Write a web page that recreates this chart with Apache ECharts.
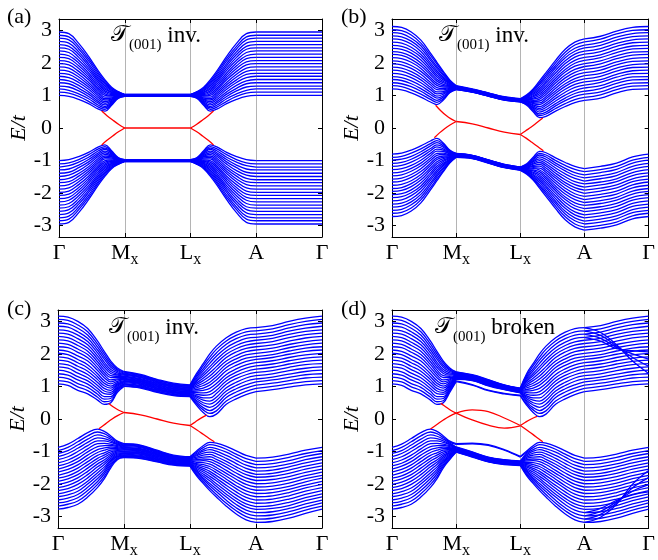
<!DOCTYPE html>
<html>
<head>
<meta charset="utf-8">
<script src="https://cdn.jsdelivr.net/npm/echarts@6/dist/echarts.min.js"></script>
<style>
html,body{margin:0;padding:0;background:#fff}
#main{width:658px;height:560px}
</style>
</head>
<body>
<div id="main"></div>
<script>
// k positions along the path (0=Γ, 1=Mx, 2=Lx, 3=A, 4=Γ)
var kA = [0,0.15,0.3,0.45,0.6,0.7,0.8,0.9,1, 2,2.1,2.2,2.3,2.4,2.55,2.7,2.85,3, 4];
var kB = [0,0.15,0.3,0.45,0.6,0.7,0.8,0.9,1, 1.25,1.5,1.75,2, 2.1,2.2,2.3,2.4,2.55,2.7,2.85,3, 3.25,3.5,3.75,4];
var kX = [3,3.25,3.5,3.75,4];
var kNames = ['Γ','M','L','A','Γ'];
var kSubs  = ['','x','x','',''];
var yTicks = [-3,-2,-1,0,1,2,3];

// ---- panel (a): energies of the slab bands at each k (row = one k point)
var Ra0   = [1.00,1.10,1.20,1.29,1.39,1.49,1.59,1.68,1.78,1.88,1.98,2.07,2.17,2.27,2.37,2.46,2.56,2.66,2.76,2.85,2.95];
var Ra015 = [0.97,1.07,1.16,1.26,1.36,1.45,1.55,1.65,1.74,1.84,1.94,2.03,2.13,2.22,2.32,2.42,2.51,2.61,2.71,2.80,2.90];
var Ra03  = [0.88,0.97,1.05,1.14,1.22,1.31,1.40,1.48,1.57,1.65,1.74,1.83,1.91,2.00,2.08,2.17,2.26,2.34,2.43,2.51,2.60];
var Ra045 = [0.75,0.82,0.90,0.97,1.04,1.11,1.19,1.26,1.33,1.40,1.48,1.55,1.62,1.69,1.77,1.84,1.91,1.98,2.06,2.13,2.20];
var Ra06  = [0.58,0.64,0.70,0.76,0.81,0.87,0.93,0.99,1.05,1.11,1.17,1.22,1.28,1.34,1.40,1.46,1.52,1.57,1.63,1.69,1.75];
var Ra07  = [0.52,0.57,0.62,0.66,0.71,0.76,0.81,0.86,0.90,0.95,1.00,1.05,1.10,1.14,1.19,1.24,1.29,1.34,1.38,1.43,1.48];
var Ra08  = [0.70,0.73,0.76,0.78,0.81,0.84,0.87,0.89,0.92,0.95,0.98,1.00,1.03,1.06,1.09,1.11,1.14,1.17,1.20,1.22,1.25];
var Ra09  = [0.91,0.92,0.93,0.94,0.95,0.96,0.97,0.98,0.99,1.00,1.02,1.03,1.04,1.05,1.06,1.07,1.08,1.09,1.10,1.11,1.12];
var Ra1   = [0.97,0.97,0.98,0.98,0.98,0.99,0.99,0.99,0.99,1.00,1.00,1.00,1.01,1.01,1.01,1.02,1.02,1.02,1.02,1.03,1.03];

var Va0   = [-1.00,-1.10,-1.20,-1.29,-1.39,-1.49,-1.59,-1.68,-1.78,-1.88,-1.98,-2.07,-2.17,-2.27,-2.37,-2.46,-2.56,-2.66,-2.76,-2.85,-2.95];
var Va015 = [-0.97,-1.07,-1.16,-1.26,-1.36,-1.45,-1.55,-1.65,-1.74,-1.84,-1.94,-2.03,-2.13,-2.22,-2.32,-2.42,-2.51,-2.61,-2.71,-2.80,-2.90];
var Va03  = [-0.88,-0.97,-1.05,-1.14,-1.22,-1.31,-1.40,-1.48,-1.57,-1.65,-1.74,-1.83,-1.91,-2.00,-2.08,-2.17,-2.26,-2.34,-2.43,-2.51,-2.60];
var Va045 = [-0.75,-0.82,-0.90,-0.97,-1.04,-1.11,-1.19,-1.26,-1.33,-1.40,-1.48,-1.55,-1.62,-1.69,-1.77,-1.84,-1.91,-1.98,-2.06,-2.13,-2.20];
var Va06  = [-0.58,-0.64,-0.70,-0.76,-0.81,-0.87,-0.93,-0.99,-1.05,-1.11,-1.17,-1.22,-1.28,-1.34,-1.40,-1.46,-1.52,-1.57,-1.63,-1.69,-1.75];
var Va07  = [-0.52,-0.57,-0.62,-0.66,-0.71,-0.76,-0.81,-0.86,-0.90,-0.95,-1.00,-1.05,-1.10,-1.14,-1.19,-1.24,-1.29,-1.34,-1.38,-1.43,-1.48];
var Va08  = [-0.70,-0.73,-0.76,-0.78,-0.81,-0.84,-0.87,-0.89,-0.92,-0.95,-0.98,-1.00,-1.03,-1.06,-1.09,-1.11,-1.14,-1.17,-1.20,-1.22,-1.25];
var Va09  = [-0.91,-0.92,-0.93,-0.94,-0.95,-0.96,-0.97,-0.98,-0.99,-1.00,-1.02,-1.03,-1.04,-1.05,-1.06,-1.07,-1.08,-1.09,-1.10,-1.11,-1.12];
var Va1   = [-0.97,-0.97,-0.98,-0.98,-0.98,-0.99,-0.99,-0.99,-0.99,-1.00,-1.00,-1.00,-1.01,-1.01,-1.01,-1.02,-1.02,-1.02,-1.02,-1.03,-1.03];

var condA = [Ra0,Ra015,Ra03,Ra045,Ra06,Ra07,Ra08,Ra09,Ra1, Ra1,Ra09,Ra08,Ra07,Ra06,Ra045,Ra03,Ra015,Ra0, Ra0];
var valA  = [Va0,Va015,Va03,Va045,Va06,Va07,Va08,Va09,Va1, Va1,Va09,Va08,Va07,Va06,Va045,Va03,Va015,Va0, Va0];
var redA = [
  [[0.65,0.52],[0.73,0.38],[0.82,0.24],[0.91,0.11],[1,0]],
  [[0.65,-0.52],[0.73,-0.38],[0.82,-0.24],[0.91,-0.11],[1,0]],
  [[1,0],[2,0]],
  [[2,0],[2.09,0.11],[2.18,0.24],[2.27,0.38],[2.35,0.52]],
  [[2,0],[2.09,-0.11],[2.18,-0.24],[2.27,-0.38],[2.35,-0.52]]
];

// ---- panel (b)
var Rb0   = [1.20,1.30,1.39,1.49,1.58,1.68,1.78,1.87,1.97,2.06,2.16,2.26,2.35,2.45,2.54,2.64,2.74,2.83,2.93,3.02,3.12];
var Rb015 = [1.17,1.27,1.36,1.46,1.55,1.65,1.75,1.84,1.94,2.03,2.13,2.23,2.32,2.42,2.51,2.61,2.71,2.80,2.90,2.99,3.09];
var Rb03  = [1.08,1.17,1.27,1.36,1.45,1.55,1.64,1.73,1.83,1.92,2.02,2.11,2.20,2.30,2.39,2.48,2.58,2.67,2.76,2.86,2.95];
var Rb045 = [0.95,1.04,1.13,1.21,1.30,1.39,1.48,1.56,1.65,1.74,1.83,1.91,2.00,2.09,2.18,2.26,2.35,2.44,2.53,2.61,2.70];
var Rb06  = [0.80,0.88,0.95,1.03,1.10,1.18,1.25,1.33,1.40,1.48,1.55,1.63,1.70,1.78,1.85,1.93,2.00,2.08,2.15,2.23,2.30];
var Rb07  = [0.72,0.79,0.85,0.92,0.98,1.05,1.11,1.18,1.24,1.31,1.37,1.44,1.50,1.57,1.63,1.70,1.76,1.83,1.89,1.96,2.02];
var Rb08  = [0.86,0.90,0.95,0.99,1.04,1.08,1.12,1.17,1.21,1.26,1.30,1.34,1.39,1.43,1.48,1.52,1.56,1.61,1.65,1.70,1.74];
var Rb09  = [1.08,1.10,1.12,1.14,1.16,1.18,1.20,1.22,1.24,1.26,1.28,1.30,1.32,1.34,1.36,1.38,1.40,1.42,1.44,1.46,1.48];
var Rb1   = [1.18,1.19,1.19,1.20,1.20,1.21,1.22,1.22,1.23,1.23,1.24,1.25,1.25,1.26,1.26,1.27,1.28,1.28,1.29,1.29,1.30];
var Rb125 = [1.10,1.10,1.11,1.11,1.12,1.12,1.13,1.13,1.14,1.14,1.15,1.15,1.16,1.16,1.17,1.17,1.18,1.18,1.19,1.19,1.20];
var Rb15  = [0.98,0.98,0.99,0.99,1.00,1.00,1.01,1.01,1.02,1.02,1.03,1.03,1.04,1.04,1.05,1.05,1.06,1.06,1.07,1.07,1.08];
var Rb175 = [0.86,0.86,0.87,0.87,0.88,0.88,0.89,0.89,0.90,0.90,0.91,0.91,0.92,0.92,0.93,0.93,0.94,0.94,0.95,0.95,0.96];
var Rb2   = [0.80,0.80,0.81,0.81,0.82,0.82,0.83,0.83,0.84,0.84,0.85,0.85,0.86,0.86,0.87,0.87,0.88,0.88,0.89,0.89,0.90];
var Rb21  = [0.70,0.72,0.73,0.75,0.76,0.78,0.80,0.81,0.83,0.84,0.86,0.88,0.89,0.91,0.92,0.94,0.96,0.97,0.99,1.00,1.02];
var Rb22  = [0.50,0.54,0.57,0.61,0.64,0.68,0.71,0.75,0.78,0.82,0.85,0.89,0.92,0.96,0.99,1.03,1.06,1.10,1.13,1.17,1.20];
var Rb23  = [0.32,0.38,0.43,0.49,0.55,0.60,0.66,0.72,0.77,0.83,0.89,0.94,1.00,1.05,1.11,1.17,1.22,1.28,1.34,1.39,1.45];
var Rb24  = [0.36,0.43,0.49,0.56,0.63,0.70,0.76,0.83,0.90,0.96,1.03,1.10,1.16,1.23,1.30,1.37,1.43,1.50,1.57,1.63,1.70];
var Rb255 = [0.52,0.60,0.68,0.75,0.83,0.91,0.99,1.07,1.14,1.22,1.30,1.38,1.46,1.53,1.61,1.69,1.77,1.85,1.92,2.00,2.08];
var Rb27  = [0.66,0.75,0.84,0.92,1.01,1.10,1.19,1.28,1.36,1.45,1.54,1.63,1.72,1.80,1.89,1.98,2.07,2.16,2.24,2.33,2.42];
var Rb285 = [0.78,0.87,0.97,1.06,1.15,1.25,1.34,1.43,1.52,1.62,1.71,1.80,1.90,1.99,2.08,2.18,2.27,2.36,2.45,2.55,2.64];
var Rb3   = [0.85,0.94,1.04,1.13,1.23,1.32,1.42,1.51,1.61,1.70,1.80,1.89,1.98,2.08,2.17,2.27,2.36,2.46,2.55,2.65,2.74];
var Rb325 = [0.92,1.02,1.11,1.21,1.30,1.40,1.49,1.59,1.68,1.78,1.87,1.97,2.06,2.16,2.25,2.35,2.44,2.54,2.63,2.73,2.82];
var Rb35  = [1.08,1.18,1.27,1.37,1.46,1.56,1.65,1.75,1.84,1.94,2.03,2.13,2.22,2.32,2.41,2.51,2.60,2.70,2.79,2.89,2.98];
var Rb375 = [1.19,1.29,1.38,1.48,1.57,1.67,1.76,1.86,1.95,2.05,2.14,2.24,2.33,2.43,2.52,2.62,2.71,2.81,2.90,3.00,3.09];

var Vb0   = [-0.80,-0.90,-0.99,-1.09,-1.18,-1.28,-1.38,-1.47,-1.57,-1.66,-1.76,-1.86,-1.95,-2.05,-2.14,-2.24,-2.34,-2.43,-2.53,-2.62,-2.72];
var Vb015 = [-0.77,-0.87,-0.96,-1.06,-1.15,-1.25,-1.35,-1.44,-1.54,-1.63,-1.73,-1.83,-1.92,-2.02,-2.11,-2.21,-2.31,-2.40,-2.50,-2.59,-2.69];
var Vb03  = [-0.68,-0.77,-0.87,-0.96,-1.05,-1.15,-1.24,-1.33,-1.43,-1.52,-1.62,-1.71,-1.80,-1.90,-1.99,-2.08,-2.18,-2.27,-2.36,-2.46,-2.55];
var Vb045 = [-0.55,-0.64,-0.73,-0.81,-0.90,-0.99,-1.08,-1.16,-1.25,-1.34,-1.43,-1.51,-1.60,-1.69,-1.78,-1.86,-1.95,-2.04,-2.13,-2.21,-2.30];
var Vb06  = [-0.40,-0.48,-0.55,-0.63,-0.70,-0.78,-0.85,-0.93,-1.00,-1.08,-1.15,-1.23,-1.30,-1.38,-1.45,-1.53,-1.60,-1.68,-1.75,-1.83,-1.90];
var Vb07  = [-0.32,-0.39,-0.45,-0.52,-0.58,-0.65,-0.71,-0.78,-0.84,-0.91,-0.97,-1.04,-1.10,-1.17,-1.23,-1.30,-1.36,-1.43,-1.49,-1.56,-1.62];
var Vb08  = [-0.46,-0.50,-0.55,-0.59,-0.64,-0.68,-0.72,-0.77,-0.81,-0.86,-0.90,-0.94,-0.99,-1.03,-1.08,-1.12,-1.16,-1.21,-1.25,-1.30,-1.34];
var Vb09  = [-0.68,-0.70,-0.72,-0.74,-0.76,-0.78,-0.80,-0.82,-0.84,-0.86,-0.88,-0.90,-0.92,-0.94,-0.96,-0.98,-1.00,-1.02,-1.04,-1.06,-1.08];
var Vb1   = [-0.78,-0.79,-0.79,-0.80,-0.80,-0.81,-0.82,-0.82,-0.83,-0.83,-0.84,-0.85,-0.85,-0.86,-0.86,-0.87,-0.88,-0.88,-0.89,-0.89,-0.90];
var Vb125 = [-0.84,-0.84,-0.85,-0.85,-0.86,-0.86,-0.87,-0.87,-0.88,-0.88,-0.89,-0.89,-0.90,-0.90,-0.91,-0.91,-0.92,-0.92,-0.93,-0.93,-0.94];
var Vb15  = [-0.98,-0.98,-0.99,-0.99,-1.00,-1.00,-1.01,-1.01,-1.02,-1.02,-1.03,-1.03,-1.04,-1.04,-1.05,-1.05,-1.06,-1.06,-1.07,-1.07,-1.08];
var Vb175 = [-1.12,-1.12,-1.13,-1.13,-1.14,-1.14,-1.15,-1.15,-1.16,-1.16,-1.17,-1.17,-1.18,-1.18,-1.19,-1.19,-1.20,-1.20,-1.21,-1.21,-1.22];
var Vb2   = [-1.20,-1.20,-1.21,-1.21,-1.22,-1.22,-1.23,-1.23,-1.24,-1.24,-1.25,-1.25,-1.26,-1.26,-1.27,-1.27,-1.28,-1.28,-1.29,-1.29,-1.30];
var Vb21  = [-1.10,-1.12,-1.13,-1.15,-1.16,-1.18,-1.20,-1.21,-1.23,-1.24,-1.26,-1.28,-1.29,-1.31,-1.32,-1.34,-1.36,-1.37,-1.39,-1.40,-1.42];
var Vb22  = [-0.90,-0.94,-0.97,-1.01,-1.04,-1.08,-1.11,-1.15,-1.18,-1.22,-1.25,-1.29,-1.32,-1.36,-1.39,-1.43,-1.46,-1.50,-1.53,-1.57,-1.60];
var Vb23  = [-0.72,-0.78,-0.83,-0.89,-0.95,-1.00,-1.06,-1.12,-1.17,-1.23,-1.29,-1.34,-1.40,-1.45,-1.51,-1.57,-1.62,-1.68,-1.74,-1.79,-1.85];
var Vb24  = [-0.76,-0.83,-0.89,-0.96,-1.03,-1.10,-1.16,-1.23,-1.30,-1.36,-1.43,-1.50,-1.56,-1.63,-1.70,-1.77,-1.83,-1.90,-1.97,-2.03,-2.10];
var Vb255 = [-0.92,-1.00,-1.08,-1.15,-1.23,-1.31,-1.39,-1.47,-1.54,-1.62,-1.70,-1.78,-1.86,-1.93,-2.01,-2.09,-2.17,-2.25,-2.32,-2.40,-2.48];
var Vb27  = [-1.06,-1.15,-1.24,-1.32,-1.41,-1.50,-1.59,-1.68,-1.76,-1.85,-1.94,-2.03,-2.12,-2.20,-2.29,-2.38,-2.47,-2.56,-2.64,-2.73,-2.82];
var Vb285 = [-1.18,-1.27,-1.37,-1.46,-1.55,-1.65,-1.74,-1.83,-1.92,-2.02,-2.11,-2.20,-2.30,-2.39,-2.48,-2.58,-2.67,-2.76,-2.85,-2.95,-3.04];
var Vb3   = [-1.25,-1.34,-1.44,-1.53,-1.63,-1.72,-1.82,-1.91,-2.01,-2.10,-2.20,-2.29,-2.38,-2.48,-2.57,-2.67,-2.76,-2.86,-2.95,-3.05,-3.14];
var Vb325 = [-1.18,-1.28,-1.37,-1.47,-1.56,-1.66,-1.75,-1.85,-1.94,-2.04,-2.13,-2.23,-2.32,-2.42,-2.51,-2.61,-2.70,-2.80,-2.89,-2.99,-3.08];
var Vb35  = [-1.08,-1.18,-1.27,-1.37,-1.46,-1.56,-1.65,-1.75,-1.84,-1.94,-2.03,-2.13,-2.22,-2.32,-2.41,-2.51,-2.60,-2.70,-2.79,-2.89,-2.98];
var Vb375 = [-0.89,-0.99,-1.08,-1.18,-1.27,-1.37,-1.46,-1.56,-1.65,-1.75,-1.84,-1.94,-2.03,-2.13,-2.22,-2.32,-2.41,-2.51,-2.60,-2.70,-2.79];

var condB = [Rb0,Rb015,Rb03,Rb045,Rb06,Rb07,Rb08,Rb09,Rb1,Rb125,Rb15,Rb175,Rb2,Rb21,Rb22,Rb23,Rb24,Rb255,Rb27,Rb285,Rb3,Rb325,Rb35,Rb375,Rb0];
var valB  = [Vb0,Vb015,Vb03,Vb045,Vb06,Vb07,Vb08,Vb09,Vb1,Vb125,Vb15,Vb175,Vb2,Vb21,Vb22,Vb23,Vb24,Vb255,Vb27,Vb285,Vb3,Vb325,Vb35,Vb375,Vb0];
var redB = [
  [[0.68,0.70],[0.76,0.53],[0.84,0.39],[0.92,0.28],[1,0.2]],
  [[0.66,-0.30],[0.74,-0.15],[0.82,-0.02],[0.91,0.10],[1,0.2]],
  [[1,0.2],[1.25,0.13],[1.5,0],[1.75,-0.13],[2,-0.2]],
  [[2,-0.2],[2.08,-0.09],[2.17,0.03],[2.26,0.17],[2.35,0.31]],
  [[2,-0.2],[2.09,-0.31],[2.18,-0.44],[2.27,-0.57],[2.36,-0.70]]
];

// ---- panels (c) and (d)
var Rc0   = [1.08,1.18,1.29,1.39,1.50,1.60,1.70,1.81,1.91,2.02,2.12,2.22,2.33,2.43,2.54,2.64,2.74,2.85,2.95,3.06,3.16];
var Rc015 = [1.03,1.14,1.24,1.35,1.45,1.56,1.66,1.77,1.87,1.98,2.08,2.19,2.29,2.40,2.50,2.61,2.71,2.82,2.92,3.03,3.13];
var Rc03  = [0.88,0.99,1.09,1.20,1.30,1.41,1.52,1.62,1.73,1.83,1.94,2.05,2.15,2.26,2.36,2.47,2.58,2.68,2.79,2.89,3.00];
var Rc045 = [0.77,0.87,0.97,1.07,1.17,1.27,1.37,1.47,1.57,1.67,1.78,1.88,1.98,2.08,2.18,2.28,2.38,2.48,2.58,2.68,2.78];
var Rc06  = [0.58,0.67,0.76,0.85,0.94,1.03,1.12,1.21,1.30,1.39,1.49,1.58,1.67,1.76,1.85,1.94,2.03,2.12,2.21,2.30,2.39];
var Rc07  = [0.45,0.53,0.61,0.69,0.78,0.86,0.94,1.02,1.10,1.18,1.27,1.35,1.43,1.51,1.59,1.67,1.75,1.84,1.92,2.00,2.08];
var Rc08  = [0.50,0.56,0.63,0.69,0.76,0.82,0.88,0.95,1.01,1.08,1.14,1.20,1.27,1.33,1.40,1.46,1.52,1.59,1.65,1.72,1.78];
var Rc09  = [0.82,0.86,0.90,0.93,0.97,1.01,1.05,1.08,1.12,1.16,1.20,1.23,1.27,1.31,1.35,1.38,1.42,1.46,1.50,1.53,1.57];
var Rc1   = [1.00,1.02,1.05,1.07,1.09,1.12,1.14,1.16,1.18,1.21,1.23,1.25,1.28,1.30,1.32,1.35,1.37,1.39,1.41,1.44,1.46];
var Rc125 = [0.95,0.97,0.99,1.01,1.03,1.06,1.08,1.10,1.12,1.14,1.16,1.18,1.20,1.22,1.24,1.27,1.29,1.31,1.33,1.35,1.37];
var Rc15  = [0.82,0.84,0.86,0.88,0.90,0.92,0.94,0.96,0.98,1.00,1.02,1.04,1.06,1.08,1.10,1.12,1.14,1.16,1.18,1.20,1.22];
var Rc175 = [0.72,0.74,0.76,0.78,0.80,0.82,0.83,0.85,0.87,0.89,0.91,0.93,0.95,0.97,0.99,1.01,1.02,1.04,1.06,1.08,1.10];
var Rc2   = [0.69,0.71,0.73,0.74,0.76,0.78,0.80,0.82,0.83,0.85,0.87,0.89,0.91,0.92,0.94,0.96,0.98,1.00,1.01,1.03,1.05];
var Rc21  = [0.42,0.47,0.52,0.57,0.62,0.67,0.71,0.76,0.81,0.86,0.91,0.96,1.01,1.06,1.11,1.16,1.20,1.25,1.30,1.35,1.40];
var Rc22  = [0.20,0.28,0.35,0.43,0.50,0.58,0.65,0.73,0.80,0.88,0.95,1.03,1.10,1.18,1.25,1.33,1.40,1.48,1.55,1.63,1.70];
var Rc23  = [0.07,0.17,0.26,0.36,0.46,0.55,0.65,0.75,0.84,0.94,1.04,1.13,1.23,1.32,1.42,1.52,1.61,1.71,1.81,1.90,2.00];
var Rc24  = [0.15,0.25,0.36,0.46,0.57,0.67,0.78,0.88,0.99,1.09,1.20,1.30,1.40,1.51,1.61,1.72,1.82,1.93,2.03,2.14,2.24];
var Rc255 = [0.45,0.55,0.66,0.76,0.86,0.96,1.07,1.17,1.27,1.37,1.48,1.58,1.68,1.78,1.89,1.99,2.09,2.19,2.30,2.40,2.50];
var Rc27  = [0.62,0.72,0.83,0.93,1.03,1.13,1.24,1.34,1.44,1.54,1.65,1.75,1.85,1.95,2.06,2.16,2.26,2.36,2.47,2.57,2.67];
var Rc285 = [0.75,0.85,0.95,1.05,1.16,1.26,1.36,1.46,1.56,1.66,1.77,1.87,1.97,2.07,2.17,2.27,2.37,2.48,2.58,2.68,2.78];
var Rc3   = [0.84,0.94,1.04,1.14,1.23,1.33,1.43,1.53,1.63,1.73,1.83,1.92,2.02,2.12,2.22,2.32,2.42,2.51,2.61,2.71,2.81];
var Rc325 = [0.90,1.00,1.10,1.20,1.29,1.39,1.49,1.59,1.69,1.79,1.89,1.98,2.08,2.18,2.28,2.38,2.48,2.57,2.67,2.77,2.87];
var Rc35  = [0.98,1.08,1.18,1.28,1.38,1.49,1.59,1.69,1.79,1.89,1.99,2.09,2.19,2.29,2.39,2.50,2.60,2.70,2.80,2.90,3.00];
var Rc375 = [1.05,1.15,1.26,1.36,1.46,1.56,1.67,1.77,1.87,1.97,2.08,2.18,2.28,2.38,2.49,2.59,2.69,2.79,2.90,3.00,3.10];
// (d): two lowest bands split off between Mx and Lx
var Rd1   = [1.15,1.17,1.22,1.23,1.25,1.26,1.27,1.28,1.30,1.31,1.32,1.34,1.35,1.36,1.37,1.39,1.40,1.41,1.42,1.44,1.45];
var Rd125 = [1.04,1.06,1.18,1.19,1.20,1.21,1.22,1.23,1.24,1.25,1.26,1.27,1.28,1.29,1.30,1.31,1.32,1.33,1.34,1.35,1.36];
var Rd15  = [0.87,0.89,1.02,1.03,1.04,1.05,1.06,1.07,1.08,1.09,1.10,1.12,1.13,1.14,1.15,1.16,1.17,1.18,1.19,1.20,1.21];
var Rd175 = [0.77,0.79,0.90,0.91,0.92,0.93,0.93,0.94,0.95,0.96,0.97,0.98,0.98,0.99,1.00,1.01,1.02,1.03,1.03,1.04,1.05];
var Rd2   = [0.71,0.73,0.80,0.81,0.82,0.83,0.83,0.84,0.85,0.86,0.87,0.88,0.88,0.89,0.90,0.91,0.92,0.93,0.93,0.94,0.95];

var Vc0   = [-0.87,-0.97,-1.06,-1.16,-1.25,-1.35,-1.44,-1.54,-1.63,-1.73,-1.82,-1.92,-2.01,-2.11,-2.20,-2.30,-2.39,-2.49,-2.58,-2.68,-2.77];
var Vc015 = [-0.77,-0.87,-0.97,-1.06,-1.16,-1.26,-1.36,-1.45,-1.55,-1.65,-1.75,-1.84,-1.94,-2.04,-2.14,-2.23,-2.33,-2.43,-2.53,-2.62,-2.72];
var Vc03  = [-0.60,-0.70,-0.80,-0.90,-1.00,-1.11,-1.21,-1.31,-1.41,-1.51,-1.61,-1.71,-1.81,-1.91,-2.01,-2.12,-2.22,-2.32,-2.42,-2.52,-2.62];
var Vc045 = [-0.42,-0.52,-0.62,-0.72,-0.82,-0.92,-1.01,-1.11,-1.21,-1.31,-1.41,-1.51,-1.61,-1.71,-1.81,-1.91,-2.00,-2.10,-2.20,-2.30,-2.40];
var Vc06  = [-0.31,-0.40,-0.49,-0.58,-0.67,-0.76,-0.85,-0.94,-1.03,-1.12,-1.21,-1.29,-1.38,-1.47,-1.56,-1.65,-1.74,-1.83,-1.92,-2.01,-2.10];
var Vc07  = [-0.38,-0.45,-0.53,-0.60,-0.67,-0.75,-0.82,-0.89,-0.96,-1.04,-1.11,-1.18,-1.26,-1.33,-1.40,-1.48,-1.55,-1.62,-1.69,-1.77,-1.84];
var Vc08  = [-0.52,-0.57,-0.62,-0.67,-0.72,-0.77,-0.81,-0.86,-0.91,-0.96,-1.01,-1.06,-1.11,-1.16,-1.21,-1.26,-1.30,-1.35,-1.40,-1.45,-1.50];
var Vc09  = [-0.68,-0.71,-0.74,-0.77,-0.79,-0.82,-0.85,-0.88,-0.91,-0.94,-0.97,-0.99,-1.02,-1.05,-1.08,-1.11,-1.14,-1.16,-1.19,-1.22,-1.25];
var Vc1   = [-0.76,-0.78,-0.80,-0.82,-0.85,-0.87,-0.89,-0.91,-0.93,-0.95,-0.98,-1.00,-1.02,-1.04,-1.06,-1.08,-1.10,-1.13,-1.15,-1.17,-1.19];
var Vc125 = [-0.80,-0.82,-0.84,-0.86,-0.88,-0.91,-0.93,-0.95,-0.97,-0.99,-1.01,-1.03,-1.05,-1.07,-1.09,-1.12,-1.14,-1.16,-1.18,-1.20,-1.22];
var Vc15  = [-0.96,-0.98,-1.00,-1.01,-1.03,-1.05,-1.07,-1.09,-1.10,-1.12,-1.14,-1.16,-1.18,-1.19,-1.21,-1.23,-1.25,-1.27,-1.28,-1.30,-1.32];
var Vc175 = [-1.11,-1.13,-1.14,-1.16,-1.17,-1.19,-1.20,-1.22,-1.23,-1.25,-1.27,-1.28,-1.30,-1.31,-1.33,-1.34,-1.36,-1.37,-1.39,-1.40,-1.42];
var Vc2   = [-1.16,-1.17,-1.19,-1.20,-1.22,-1.23,-1.25,-1.26,-1.28,-1.29,-1.31,-1.32,-1.33,-1.35,-1.36,-1.38,-1.39,-1.41,-1.42,-1.44,-1.45];
var Vc21  = [-0.98,-1.02,-1.06,-1.10,-1.13,-1.17,-1.21,-1.25,-1.29,-1.33,-1.37,-1.40,-1.44,-1.48,-1.52,-1.56,-1.60,-1.63,-1.67,-1.71,-1.75];
var Vc22  = [-0.82,-0.88,-0.94,-0.99,-1.05,-1.11,-1.17,-1.23,-1.28,-1.34,-1.40,-1.46,-1.52,-1.57,-1.63,-1.69,-1.75,-1.81,-1.86,-1.92,-1.98];
var Vc23  = [-0.72,-0.79,-0.87,-0.94,-1.02,-1.09,-1.16,-1.24,-1.31,-1.39,-1.46,-1.53,-1.61,-1.68,-1.76,-1.83,-1.90,-1.98,-2.05,-2.13,-2.20];
var Vc24  = [-0.74,-0.82,-0.91,-0.99,-1.07,-1.16,-1.24,-1.32,-1.40,-1.49,-1.57,-1.65,-1.74,-1.82,-1.90,-1.99,-2.07,-2.15,-2.23,-2.32,-2.40];
var Vc255 = [-0.84,-0.93,-1.02,-1.12,-1.21,-1.30,-1.39,-1.48,-1.58,-1.67,-1.76,-1.85,-1.94,-2.04,-2.13,-2.22,-2.31,-2.40,-2.50,-2.59,-2.68];
var Vc27  = [-0.98,-1.08,-1.17,-1.27,-1.37,-1.47,-1.56,-1.66,-1.76,-1.85,-1.95,-2.05,-2.14,-2.24,-2.34,-2.44,-2.53,-2.63,-2.73,-2.82,-2.92];
var Vc285 = [-1.12,-1.22,-1.32,-1.42,-1.52,-1.62,-1.71,-1.81,-1.91,-2.01,-2.11,-2.21,-2.31,-2.41,-2.51,-2.61,-2.70,-2.80,-2.90,-3.00,-3.10];
var Vc3   = [-1.20,-1.30,-1.40,-1.50,-1.60,-1.70,-1.79,-1.89,-1.99,-2.09,-2.19,-2.29,-2.39,-2.49,-2.59,-2.69,-2.78,-2.88,-2.98,-3.08,-3.18];
var Vc325 = [-1.17,-1.27,-1.37,-1.47,-1.57,-1.67,-1.76,-1.86,-1.96,-2.06,-2.16,-2.26,-2.36,-2.46,-2.56,-2.66,-2.75,-2.85,-2.95,-3.05,-3.15];
var Vc35  = [-1.08,-1.18,-1.28,-1.38,-1.47,-1.57,-1.67,-1.77,-1.87,-1.97,-2.07,-2.16,-2.26,-2.36,-2.46,-2.56,-2.66,-2.75,-2.85,-2.95,-3.05];
var Vc375 = [-0.96,-1.06,-1.15,-1.25,-1.35,-1.45,-1.54,-1.64,-1.74,-1.83,-1.93,-2.03,-2.12,-2.22,-2.32,-2.42,-2.51,-2.61,-2.71,-2.80,-2.90];
var Vd1   = [-0.76,-0.78,-0.86,-0.87,-0.88,-0.89,-0.90,-0.90,-0.91,-0.92,-0.93,-0.94,-0.95,-0.96,-0.97,-0.98,-0.98,-0.99,-1.00,-1.01,-1.02];
var Vd125 = [-0.74,-0.76,-1.01,-1.02,-1.03,-1.04,-1.05,-1.05,-1.06,-1.07,-1.08,-1.09,-1.10,-1.11,-1.12,-1.13,-1.13,-1.14,-1.15,-1.16,-1.17];
var Vd15  = [-0.79,-0.81,-1.17,-1.18,-1.19,-1.20,-1.20,-1.21,-1.22,-1.23,-1.24,-1.25,-1.25,-1.26,-1.27,-1.28,-1.29,-1.30,-1.30,-1.31,-1.32];
var Vd175 = [-0.94,-0.96,-1.25,-1.26,-1.27,-1.28,-1.28,-1.29,-1.30,-1.31,-1.32,-1.33,-1.33,-1.34,-1.35,-1.36,-1.37,-1.38,-1.38,-1.39,-1.40];
var Vd2   = [-1.15,-1.17,-1.29,-1.30,-1.31,-1.31,-1.32,-1.33,-1.34,-1.34,-1.35,-1.36,-1.37,-1.38,-1.38,-1.39,-1.40,-1.41,-1.41,-1.42,-1.43];

// (d): extra bands fanning across the others between A and Γ (values at kX)
var dCross = [
  [2.80,2.66,2.28,1.78,1.40],
  [2.70,2.57,2.24,1.89,1.62],
  [2.60,2.48,2.20,2.00,1.84],
  [2.50,2.39,2.16,2.10,2.06],
  [-3.18,-3.02,-2.62,-2.00,-1.58],
  [-3.08,-2.93,-2.58,-2.11,-1.80],
  [-2.98,-2.84,-2.54,-2.22,-2.02],
  [-2.88,-2.75,-2.50,-2.33,-2.24]
];

var condC = [Rc0,Rc015,Rc03,Rc045,Rc06,Rc07,Rc08,Rc09,Rc1,Rc125,Rc15,Rc175,Rc2,Rc21,Rc22,Rc23,Rc24,Rc255,Rc27,Rc285,Rc3,Rc325,Rc35,Rc375,Rc0];
var valC  = [Vc0,Vc015,Vc03,Vc045,Vc06,Vc07,Vc08,Vc09,Vc1,Vc125,Vc15,Vc175,Vc2,Vc21,Vc22,Vc23,Vc24,Vc255,Vc27,Vc285,Vc3,Vc325,Vc35,Vc375,Vc0];
var condD = [Rc0,Rc015,Rc03,Rc045,Rc06,Rc07,Rc08,Rc09,Rd1,Rd125,Rd15,Rd175,Rd2,Rc21,Rc22,Rc23,Rc24,Rc255,Rc27,Rc285,Rc3,Rc325,Rc35,Rc375,Rc0];
var valD  = [Vc0,Vc015,Vc03,Vc045,Vc06,Vc07,Vc08,Vc09,Vd1,Vd125,Vd15,Vd175,Vd2,Vc21,Vc22,Vc23,Vc24,Vc255,Vc27,Vc285,Vc3,Vc325,Vc35,Vc375,Vc0];
var redC = [
  [[0.77,0.48],[0.84,0.37],[0.92,0.27],[1,0.2]],
  [[0.62,-0.30],[0.72,-0.15],[0.82,0.0],[0.91,0.11],[1,0.2]],
  [[1,0.2],[1.25,0.13],[1.5,0],[1.75,-0.13],[2,-0.2]],
  [[2,-0.2],[2.08,-0.09],[2.16,0.02],[2.25,0.12]],
  [[2,-0.2],[2.1,-0.33],[2.2,-0.47],[2.29,-0.60],[2.37,-0.70]]
];
var redD = [
  [[0.76,0.48],[0.84,0.37],[0.92,0.26],[1,0.18]],
  [[0.6,-0.31],[0.7,-0.17],[0.8,-0.03],[0.9,0.09],[1,0.18]],
  [[1,0.18],[1.25,0.28],[1.5,0.23],[1.75,0.03],[2,-0.2]],
  [[1,0.18],[1.25,-0.03],[1.5,-0.19],[1.75,-0.28],[2,-0.21]],
  [[2,-0.2],[2.08,-0.1],[2.17,0.0],[2.26,0.08]],
  [[2,-0.2],[2.1,-0.34],[2.2,-0.48],[2.28,-0.60],[2.35,-0.70]]
];

var panelTags = ['(a)','(b)','(c)','(d)'];
var panelNotes = ['inv.','inv.','inv.','broken'];

// ---------------------------------------------------------------
var chart = echarts.init(document.getElementById('main'));
var SERIF = 'Liberation Serif, Times New Roman, serif';
var BLUE = '#0000ff', RED = '#ff0000', LW = 1.3;

var panels = [
  {K: kA, cond: condA, val: valA, red: redA, extra: []},
  {K: kB, cond: condB, val: valB, red: redB, extra: []},
  {K: kB, cond: condC, val: valC, red: redC, extra: []},
  {K: kB, cond: condD, val: valD, red: redD, extra: dCross}
];
var boxes = [[59,19,263,218],[392,19,262,218],[58,310,264,218],[392,310,262,218]];
var tagPos = [[7,6],[341,6],[7,298],[341,298]];
var notePos = [[111,24],[439,24],[109,316],[435,316]];

var grids = [], xAxes = [], yAxes = [], series = [], titles = [];

function kLabel(v) {
  var i = Math.round(v);
  return kSubs[i] ? '{m|' + kNames[i] + '}{s|' + kSubs[i] + '}' : '{m|' + kNames[i] + '}';
}

function line(gi, pts, color, z) {
  series.push({
    type: 'line', xAxisIndex: gi, yAxisIndex: gi, data: pts,
    smooth: 0.4, symbol: 'none', silent: true, z: z,
    lineStyle: {color: color, width: LW}
  });
}

function bands(K, rows, gi) {
  var breaks = [];
  K.forEach(function (k, i) { if (Math.abs(k - Math.round(k)) < 1e-9) breaks.push(i); });
  var n = rows[0].length;
  for (var j = 0; j < n; j++) {
    for (var b = 0; b < breaks.length - 1; b++) {
      var pts = [];
      for (var i = breaks[b]; i <= breaks[b + 1]; i++) pts.push([K[i], rows[i][j]]);
      line(gi, pts, BLUE, 2);
    }
  }
}

panels.forEach(function (p, gi) {
  var bx = boxes[gi];
  grids.push({left: bx[0], top: bx[1], width: bx[2], height: bx[3], containLabel: false});

  xAxes[gi] = {
    gridIndex: gi, type: 'value', min: 0, max: 4, interval: 1, position: 'bottom',
    axisLine: {show: true, onZero: false, lineStyle: {color: '#000', width: 1}},
    axisTick: {show: true, inside: true, length: 4, lineStyle: {color: '#000'}},
    axisLabel: {
      margin: 5, showMinLabel: true, showMaxLabel: true, formatter: kLabel,
      rich: {
        m: {fontFamily: SERIF, fontSize: 22, lineHeight: 22, color: '#000', verticalAlign: 'top'},
        s: {fontFamily: SERIF, fontSize: 16, lineHeight: 16, color: '#000', verticalAlign: 'top', padding: [10, 0, 0, 0]}
      }
    },
    splitLine: {show: true, lineStyle: {color: '#b4b4b4', width: 1}}
  };
  xAxes[4 + gi] = {
    gridIndex: gi, type: 'value', min: 0, max: 4, interval: 1, position: 'top',
    axisLine: {show: true, onZero: false, lineStyle: {color: '#000', width: 1}},
    axisTick: {show: true, inside: true, length: 4, lineStyle: {color: '#000'}},
    axisLabel: {show: false}, splitLine: {show: false}
  };
  yAxes[gi] = {
    gridIndex: gi, type: 'value', min: -3.35, max: 3.35, position: 'left',
    axisLine: {show: true, onZero: false, lineStyle: {color: '#000', width: 1}},
    axisTick: {show: true, inside: true, length: 4, customValues: yTicks, lineStyle: {color: '#000'}},
    axisLabel: {customValues: yTicks, margin: 7, fontFamily: SERIF, fontSize: 22, color: '#000'},
    splitLine: {show: false},
    name: 'E/t', nameLocation: 'middle', nameGap: 28, nameRotate: 90,
    nameTextStyle: {fontFamily: SERIF, fontStyle: 'italic', fontSize: 22, color: '#000'}
  };
  yAxes[4 + gi] = {
    gridIndex: gi, type: 'value', min: -3.35, max: 3.35, position: 'right',
    axisLine: {show: true, onZero: false, lineStyle: {color: '#000', width: 1}},
    axisTick: {show: true, inside: true, length: 4, customValues: yTicks, lineStyle: {color: '#000'}},
    axisLabel: {show: false}, splitLine: {show: false}
  };

  bands(p.K, p.cond, gi);
  bands(p.K, p.val, gi);
  p.extra.forEach(function (row) {
    line(gi, kX.map(function (k, i) { return [k, row[i]]; }), BLUE, 2);
  });
  p.red.forEach(function (c) { line(gi, c, RED, 3); });

  titles.push({
    text: panelTags[gi], left: tagPos[gi][0], top: tagPos[gi][1], padding: 0,
    textStyle: {fontFamily: SERIF, fontSize: 22, fontWeight: 'normal', color: '#000'}
  });
  titles.push({
    text: '{t|𝒯}{s|(001)}{n| ' + panelNotes[gi] + '}', left: notePos[gi][0], top: notePos[gi][1], padding: 0,
    textStyle: {
      fontWeight: 'normal',
      rich: {
        t: {fontFamily: 'DejaVu Serif, DejaVu Sans, serif', fontWeight: 'normal', fontSize: 23, lineHeight: 26, color: '#000', verticalAlign: 'top'},
        s: {fontFamily: SERIF, fontWeight: 'normal', fontSize: 15, lineHeight: 15, color: '#000', verticalAlign: 'top', padding: [14, 0, 0, 0]},
        n: {fontFamily: SERIF, fontWeight: 'normal', fontSize: 23, lineHeight: 26, color: '#000', verticalAlign: 'top'}
      }
    }
  });
});

chart.setOption({
  animation: false,
  backgroundColor: '#fff',
  title: titles,
  grid: grids,
  xAxis: xAxes,
  yAxis: yAxes,
  series: series
});
</script>
</body>
</html>
